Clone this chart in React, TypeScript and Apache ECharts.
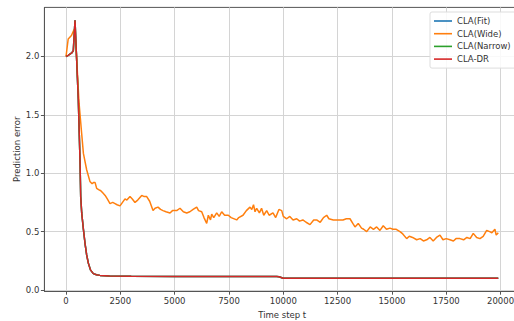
import React, { useEffect, useRef } from "react";
import * as echarts from "echarts";

const seriesNames = ["CLA(Fit)", "CLA(Wide)", "CLA(Narrow)", "CLA-DR"];
const seriesColors = ["#1f77b4", "#ff7f0e", "#2ca02c", "#d62728"];

const xTicks = [0, 2500, 5000, 7500, 10000, 12500, 15000, 17500, 20000];
const yTicks = [0, 0.5, 1.0, 1.5, 2.0];

// [time step, prediction error]
const wideCurve: [number, number][] = [
  [0, 2.0], [100, 2.15], [250, 2.18], [370, 2.23], [450, 2.12], [600, 1.6], [720, 1.34],
  [800, 1.17], [950, 1.03], [1100, 0.93], [1200, 0.91], [1260, 0.92], [1340, 0.92],
  [1410, 0.87], [1500, 0.86], [1600, 0.85], [1700, 0.83], [1800, 0.81], [1900, 0.78],
  [2025, 0.74], [2150, 0.75], [2255, 0.74], [2350, 0.73], [2485, 0.72], [2600, 0.75],
  [2715, 0.78], [2800, 0.77], [2945, 0.8], [3050, 0.78], [3175, 0.75], [3300, 0.77],
  [3484, 0.81], [3600, 0.8], [3714, 0.8], [3850, 0.76], [4004, 0.68], [4100, 0.7],
  [4234, 0.71], [4350, 0.69], [4464, 0.68], [4600, 0.67], [4786, 0.66], [4900, 0.68],
  [5094, 0.68], [5246, 0.7], [5400, 0.67], [5555, 0.66], [5700, 0.67], [5850, 0.69],
  [6015, 0.71], [6100, 0.68], [6245, 0.67], [6350, 0.62], [6475, 0.57], [6550, 0.64],
  [6650, 0.6], [6705, 0.65], [6800, 0.62], [6935, 0.66], [7050, 0.63], [7165, 0.67],
  [7300, 0.64], [7469, 0.64], [7600, 0.62], [7856, 0.6], [7950, 0.62], [8146, 0.64],
  [8300, 0.68], [8468, 0.71], [8550, 0.69], [8630, 0.73], [8700, 0.67], [8776, 0.7],
  [8900, 0.66], [9000, 0.7], [9100, 0.64], [9236, 0.68], [9350, 0.64], [9526, 0.66],
  [9650, 0.62], [9800, 0.69], [9927, 0.68], [10000, 0.63], [10157, 0.61], [10300, 0.63],
  [10450, 0.6], [10617, 0.61], [10750, 0.59], [10900, 0.6], [11050, 0.58], [11229, 0.56],
  [11400, 0.6], [11537, 0.6], [11700, 0.58], [11850, 0.62], [11998, 0.64], [12100, 0.61],
  [12300, 0.6], [12531, 0.6], [12748, 0.6], [12900, 0.61], [13070, 0.61], [13200, 0.57],
  [13300, 0.54], [13450, 0.57], [13600, 0.53], [13700, 0.52], [13838, 0.5], [14000, 0.54],
  [14150, 0.52], [14298, 0.54], [14450, 0.51], [14600, 0.55], [14750, 0.52], [14910, 0.53],
  [15050, 0.52], [15200, 0.52], [15371, 0.5], [15500, 0.48], [15679, 0.44], [15800, 0.46],
  [15950, 0.45], [16139, 0.43], [16300, 0.44], [16450, 0.42], [16599, 0.43], [16750, 0.45],
  [16900, 0.42], [17050, 0.45], [17211, 0.47], [17350, 0.43], [17500, 0.44], [17672, 0.43],
  [17830, 0.42], [17950, 0.44], [18132, 0.44], [18300, 0.43], [18450, 0.45], [18600, 0.44],
  [18744, 0.485], [18900, 0.45], [19052, 0.44], [19200, 0.46], [19361, 0.51], [19500, 0.5],
  [19600, 0.49], [19740, 0.52], [19800, 0.47], [19895, 0.49],
];

const lowCurve: [number, number][] = [
  [0, 2.0], [100, 2.01], [262, 2.03], [336, 2.05], [414, 2.31], [566, 1.63], [644, 1.11],
  [676, 0.8], [722, 0.66], [800, 0.52], [874, 0.4], [950, 0.3], [1027, 0.23], [1130, 0.17],
  [1258, 0.14], [1400, 0.13], [1565, 0.125], [2000, 0.12], [3000, 0.117], [5000, 0.116],
  [7500, 0.116], [9700, 0.116], [9800, 0.113], [10000, 0.1], [12500, 0.1], [15000, 0.1],
  [17500, 0.1], [19895, 0.1],
];

const fitValues = lowCurve;
const narrowValues = lowCurve;
const drValues = lowCurve;
const seriesData = [fitValues, wideCurve, narrowValues, drValues];

const FONT = "DejaVu Sans";

export default function App() {
  const ref = useRef<HTMLDivElement>(null);
  useEffect(() => {
    if (!ref.current) return;
    const chart = echarts.init(ref.current, undefined, { renderer: "svg" });
    chart.setOption({
      animation: false,
      backgroundColor: "#ffffff",
      grid: {
        left: 44.4,
        top: 7.4,
        width: 475.6,
        height: 283.8,
        show: true,
        borderColor: "#555",
        borderWidth: 1,
        containLabel: false,
        outerBoundsMode: "none",
      },
      legend: {
        orient: "vertical",
        left: 430,
        top: 12,
        padding: [4, 6, 4, 4],
        backgroundColor: "rgba(255,255,255,0.85)",
        borderColor: "#dddddd",
        borderWidth: 1,
        borderRadius: 2,
        icon: "rect",
        itemWidth: 18,
        itemHeight: 1.6,
        itemGap: 2.7,
        data: seriesNames,
        textStyle: { fontFamily: FONT, fontSize: 8.5, color: "#333", lineHeight: 10 },
      },
      xAxis: {
        type: "value",
        min: -995,
        max: 20895,
        name: "Time step t",
        nameLocation: "middle",
        nameGap: 17,
        nameTextStyle: { fontFamily: FONT, fontSize: 8.5, color: "#333" },
        axisLine: { show: true, onZero: false, lineStyle: { color: "#555", width: 1 } },
        axisTick: {
          show: true,
          length: 3.5,
          customValues: xTicks,
          lineStyle: { color: "#555" },
        },
        axisLabel: {
          customValues: xTicks,
          fontFamily: FONT,
          fontSize: 8.5,
          color: "#333",
          margin: 5,
          formatter: (v: number) => String(v),
        },
        splitLine: { show: true, lineStyle: { color: "#d4d4d4", width: 1 } },
      },
      yAxis: {
        type: "value",
        min: -0.0105,
        max: 2.4205,
        name: "Prediction error",
        nameLocation: "middle",
        nameGap: 23,
        nameMoveOverlap: false,
        nameRotate: 90,
        nameTextStyle: { fontFamily: FONT, fontSize: 8.5, color: "#333" },
        axisLine: { show: true, onZero: false, lineStyle: { color: "#555", width: 1 } },
        axisTick: {
          show: true,
          length: 3.5,
          customValues: yTicks,
          lineStyle: { color: "#555" },
        },
        axisLabel: {
          customValues: yTicks,
          fontFamily: FONT,
          fontSize: 8.5,
          color: "#333",
          margin: 5,
          formatter: (v: number) => v.toFixed(1),
        },
        splitLine: { show: true, lineStyle: { color: "#d4d4d4", width: 1 } },
      },
      series: seriesNames.map((name, i) => ({
        name,
        type: "line",
        data: seriesData[i],
        showSymbol: false,
        symbol: "none",
        color: seriesColors[i],
        lineStyle: { color: seriesColors[i], width: 1.5 },
        z: 2 + i,
      })),
    });
    return () => chart.dispose();
  }, []);
  return (
    <div
      ref={ref}
      style={{ position: "fixed", left: 0, top: 0, width: 514, height: 321, background: "#fff" }}
    />
  );
}
